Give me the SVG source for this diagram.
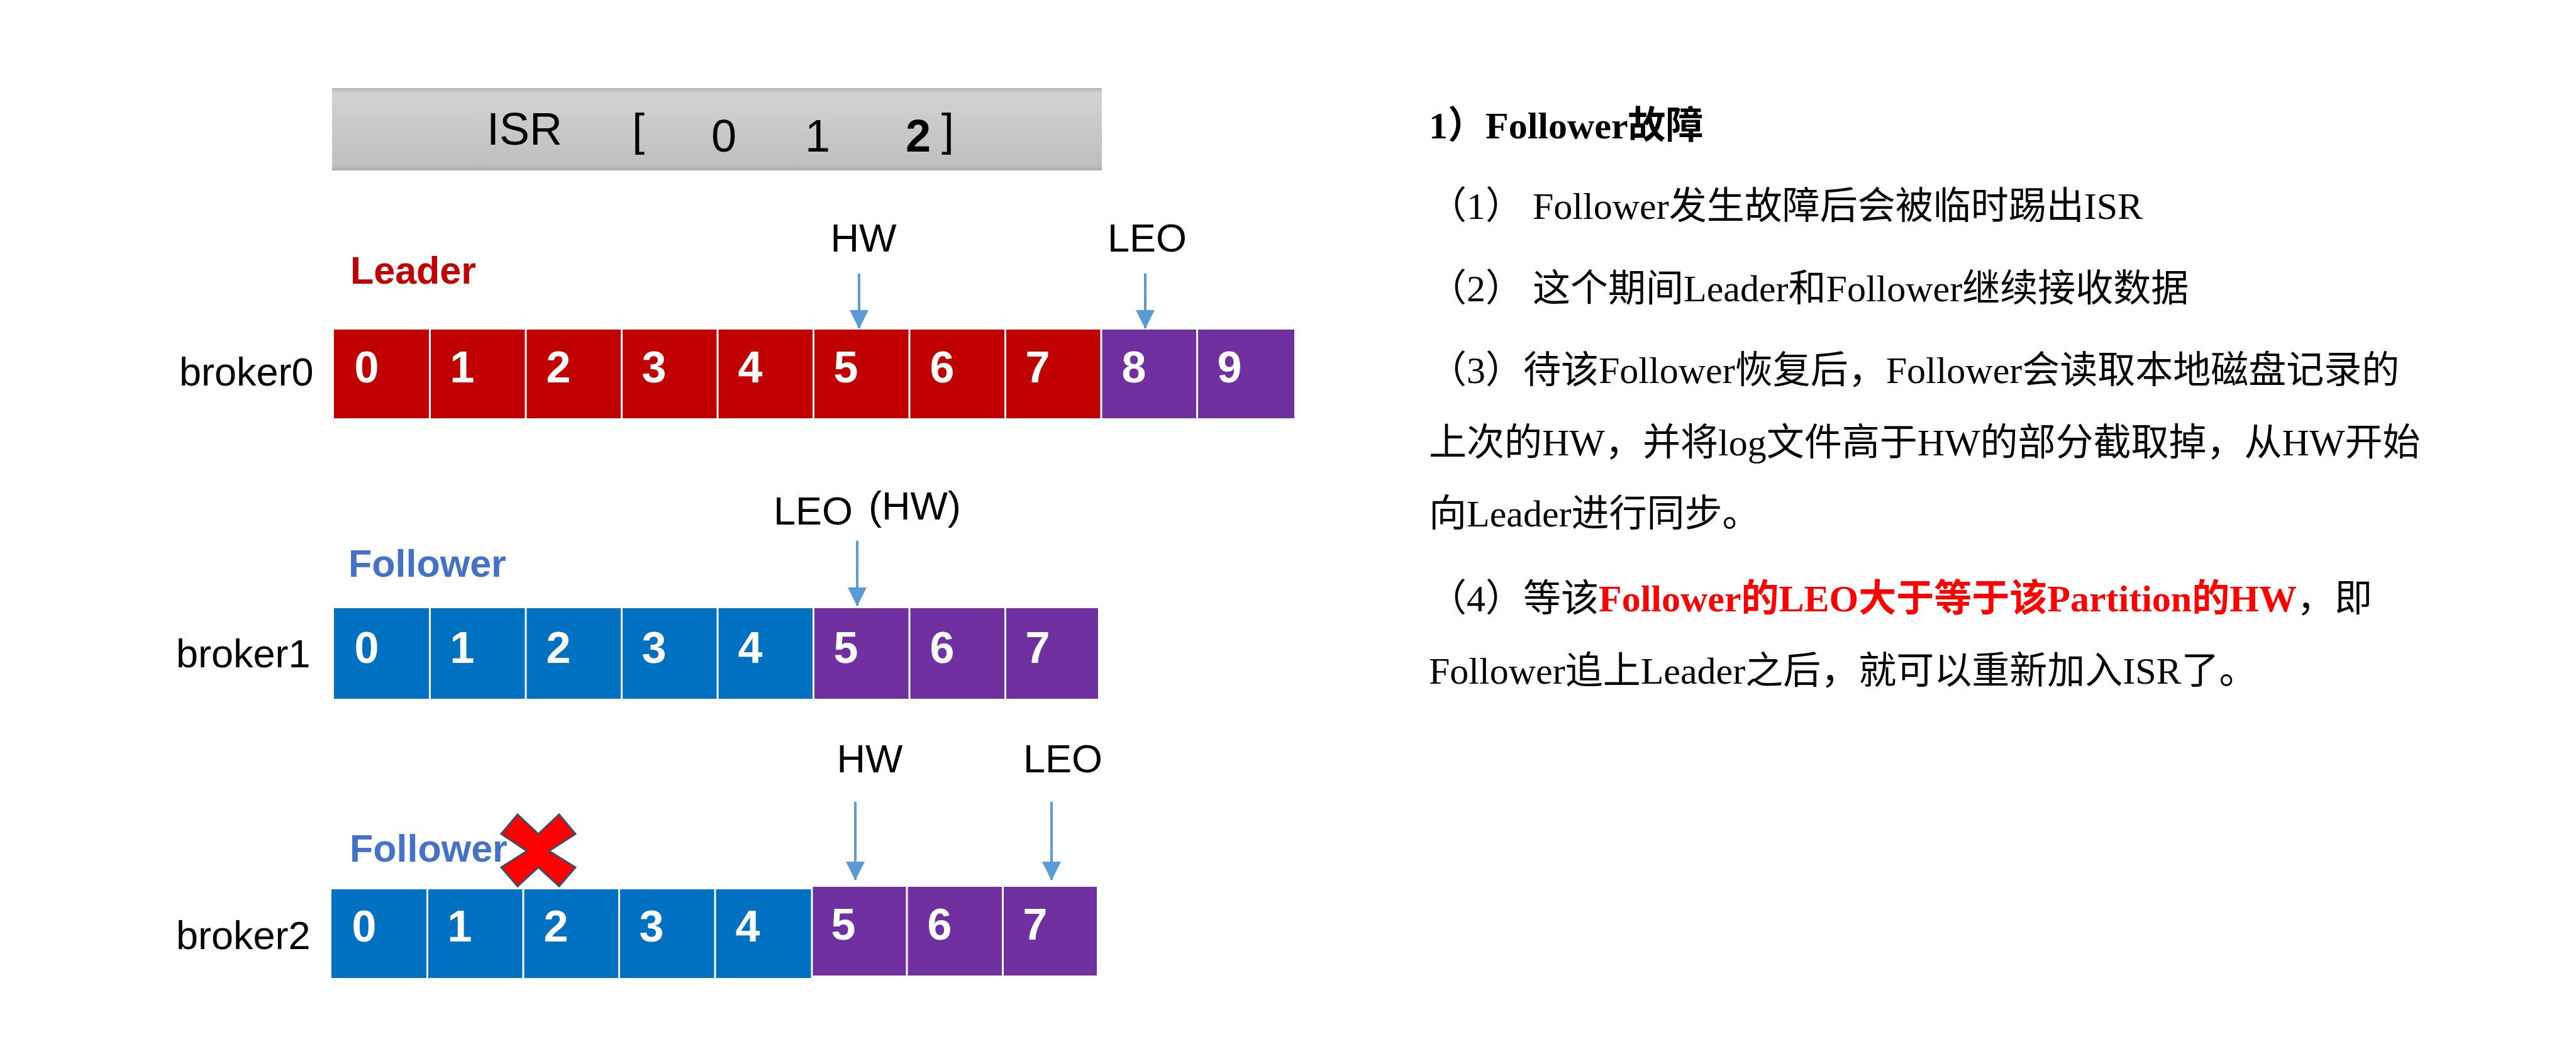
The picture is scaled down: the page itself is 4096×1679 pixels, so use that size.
<svg xmlns="http://www.w3.org/2000/svg" width="4096" height="1679" viewBox="0 0 4096 1679">
<defs>
<linearGradient id="isrGrad" x1="0" y1="0" x2="0" y2="1">
<stop offset="0" stop-color="#B4B4B4"/>
<stop offset="0.06" stop-color="#D2D2D2"/>
<stop offset="0.94" stop-color="#BFBFBF"/>
<stop offset="1" stop-color="#ABABAB"/>
</linearGradient>
<marker id="arrow" markerUnits="userSpaceOnUse" markerWidth="30" markerHeight="30" refX="29" refY="15" orient="auto" viewBox="0 0 30 30">
<path d="M0,0 L30,15 L0,30 Z" fill="#5B9BD5"/>
</marker>
</defs>
<style>
.sans{font-family:"Liberation Sans",Arial,sans-serif;}
.lbl{font-family:"Liberation Sans",Arial,sans-serif;font-size:63px;fill:#000;}
.num{font-family:"Liberation Sans",Arial,sans-serif;font-size:70px;font-weight:bold;fill:#fff;text-anchor:middle;}
.red{fill:#C00000;}
.blue{fill:#0070C0;}
.pur{fill:#7030A0;}
.sep{stroke:#fff;stroke-width:3;}
.conn{stroke:#5B9BD5;stroke-width:4;fill:none;marker-end:url(#arrow);}
.role{font-family:"Liberation Sans",Arial,sans-serif;font-size:61px;font-weight:bold;}
.body{font-family:"Liberation Serif","Times New Roman","Noto Sans CJK SC",serif;font-size:60px;fill:#000;}
</style>
<rect width="4096" height="1679" fill="#fff"/>

<g id="isr">
<rect x="528" y="140" width="1224" height="131" fill="url(#isrGrad)"/>
<text class="sans" x="774" y="230" font-size="72">ISR</text>
<text class="sans" x="1005" y="231" font-size="72">[</text>
<text class="sans" x="1151" y="241" font-size="72" text-anchor="middle">0</text>
<text class="sans" x="1300" y="241" font-size="72" text-anchor="middle">1</text>
<text class="sans" x="1460" y="241" font-size="72" font-weight="bold" text-anchor="middle">2</text>
<text class="sans" x="1497" y="231" font-size="72">]</text>
</g>

<g id="leader-label"><text class="role" x="557" y="451" fill="#C00000">Leader</text></g>
<g id="broker0">
<text class="lbl" x="285" y="613">broker0</text>
<rect class="red" x="531" y="524" width="1221" height="141"/>
<rect class="pur" x="1752" y="524" width="306" height="141"/>
<g class="sep">
<line x1="683.5" y1="524" x2="683.5" y2="665"/><line x1="836" y1="524" x2="836" y2="665"/><line x1="988.5" y1="524" x2="988.5" y2="665"/><line x1="1141" y1="524" x2="1141" y2="665"/><line x1="1293.5" y1="524" x2="1293.5" y2="665"/><line x1="1446" y1="524" x2="1446" y2="665"/><line x1="1598.5" y1="524" x2="1598.5" y2="665"/><line x1="1751" y1="524" x2="1751" y2="665"/><line x1="1903.5" y1="524" x2="1903.5" y2="665"/>
</g>
<text class="num" x="583" y="608">0</text><text class="num" x="735" y="608">1</text><text class="num" x="888" y="608">2</text><text class="num" x="1040" y="608">3</text><text class="num" x="1193" y="608">4</text><text class="num" x="1345" y="608">5</text><text class="num" x="1498" y="608">6</text><text class="num" x="1650" y="608">7</text><text class="num" x="1803" y="608">8</text><text class="num" x="1955" y="608">9</text>
</g>
<g id="b0-hw"><text class="lbl" x="1373" y="400" text-anchor="middle">HW</text></g>
<g id="b0-leo"><text class="lbl" x="1824" y="400" text-anchor="middle">LEO</text></g>

<g id="follower1-label"><text class="role" x="554" y="917" fill="#4472C4">Follower</text></g>
<g id="broker1">
<text class="lbl" x="280" y="1061">broker1</text>
<rect class="blue" x="531" y="967" width="763" height="144"/>
<rect class="pur" x="1293" y="967" width="453" height="144"/>
<g class="sep">
<line x1="683.5" y1="967" x2="683.5" y2="1111"/><line x1="836" y1="967" x2="836" y2="1111"/><line x1="988.5" y1="967" x2="988.5" y2="1111"/><line x1="1141" y1="967" x2="1141" y2="1111"/><line x1="1293.5" y1="967" x2="1293.5" y2="1111"/><line x1="1446" y1="967" x2="1446" y2="1111"/><line x1="1598.5" y1="967" x2="1598.5" y2="1111"/>
</g>
<text class="num" x="583" y="1054">0</text><text class="num" x="735" y="1054">1</text><text class="num" x="888" y="1054">2</text><text class="num" x="1040" y="1054">3</text><text class="num" x="1193" y="1054">4</text><text class="num" x="1345" y="1054">5</text><text class="num" x="1498" y="1054">6</text><text class="num" x="1650" y="1054">7</text>
</g>
<g id="b1-leohw"><text class="lbl" x="1230" y="834">LEO</text><text class="lbl" x="1381" y="826">(HW)</text></g>

<g id="follower2-label"><text class="role" x="556" y="1370" fill="#4472C4">Follower</text></g>
<g id="fail-mark"><polygon points="823,1295 856,1326 889,1295 915,1326 873,1353 915,1379 889,1409 856,1379 823,1409 797,1379 838,1353 797,1326" fill="#FF0000" stroke="#3F4F63" stroke-width="3" stroke-linejoin="miter"/></g>
<g id="broker2">
<text class="lbl" x="280" y="1509">broker2</text>
<rect class="blue" x="527" y="1414" width="763" height="141"/>
<rect class="pur" x="1290" y="1410" width="454" height="141"/>
<g class="sep">
<line x1="679.5" y1="1410" x2="679.5" y2="1555"/><line x1="832" y1="1410" x2="832" y2="1555"/><line x1="984.5" y1="1410" x2="984.5" y2="1555"/><line x1="1137" y1="1410" x2="1137" y2="1555"/><line x1="1291" y1="1410" x2="1291" y2="1555"/><line x1="1442" y1="1410" x2="1442" y2="1555"/><line x1="1594.5" y1="1410" x2="1594.5" y2="1555"/>
</g>
<text class="num" x="579" y="1497">0</text><text class="num" x="731" y="1497">1</text><text class="num" x="884" y="1497">2</text><text class="num" x="1036" y="1497">3</text><text class="num" x="1189" y="1497">4</text><text class="num" x="1341" y="1494">5</text><text class="num" x="1494" y="1494">6</text><text class="num" x="1646" y="1494">7</text>
</g>
<g id="b2-hw"><text class="lbl" x="1383" y="1228" text-anchor="middle">HW</text></g>
<g id="b2-leo"><text class="lbl" x="1690" y="1228" text-anchor="middle">LEO</text></g>

<g id="connectors">
<line class="conn" x1="1366" y1="435" x2="1366" y2="522"/>
<line class="conn" x1="1821" y1="435" x2="1821" y2="522"/>
<line class="conn" x1="1363" y1="860" x2="1363" y2="963"/>
<line class="conn" x1="1360" y1="1275" x2="1360" y2="1399"/>
<line class="conn" x1="1672" y1="1275" x2="1672" y2="1399"/>
</g>

<g id="notes">
<text class="body" x="2272" y="220" font-weight="bold">1）Follower故障</text>
<text class="body" x="2272" y="348">（1） Follower发生故障后会被临时踢出ISR</text>
<text class="body" x="2272" y="479">（2） 这个期间Leader和Follower继续接收数据</text>
<text class="body" x="2272" y="609">（3）待该Follower恢复后，Follower会读取本地磁盘记录的</text>
<text class="body" x="2272" y="724">上次的HW，并将log文件高于HW的部分截取掉，从HW开始</text>
<text class="body" x="2272" y="837">向Leader进行同步。</text>
<text class="body" x="2272" y="972">（4）等该<tspan fill="#FF0000" font-weight="bold">Follower的LEO大于等于该Partition的HW</tspan>，即</text>
<text class="body" x="2272" y="1087">Follower追上Leader之后，就可以重新加入ISR了。</text>
</g>
</svg>
